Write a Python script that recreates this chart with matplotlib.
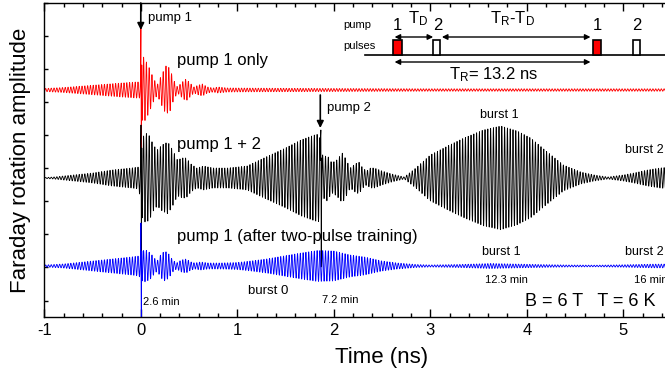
import numpy as np
import matplotlib
matplotlib.use('Agg')
import matplotlib.pyplot as plt
from matplotlib.patches import Rectangle

plt.rcParams['font.family'] = ['Liberation Sans', 'DejaVu Sans']
plt.rcParams['mathtext.fontset'] = 'custom'
plt.rcParams['mathtext.rm'] = 'Liberation Sans'
plt.rcParams['mathtext.it'] = 'Liberation Sans'
plt.rcParams['mathtext.default'] = 'regular'
plt.rcParams['axes.unicode_minus'] = False

# Larmor precession period of the electron spins (ns)
period = 0.029

# envelope of each trace: time (ns) and half amplitude (a.u.)
red_env_t = [-1.0, -0.8, -0.6, -0.4, -0.2, -0.05, -0.01, 0.012, 0.03, 0.08, 0.13, 0.17,
             0.21, 0.26, 0.30, 0.34, 0.38, 0.43, 0.47, 0.51, 0.55, 0.60, 0.64, 0.69,
             0.75, 0.80, 0.90, 1.2, 2.0, 3.0, 4.0, 5.6]
red_env_a = [1.5, 2.5, 4, 5.5, 7, 8, 8, 30, 33, 24, 12, 5,
             14, 24, 22, 10, 3, 8, 11, 7, 3, 5, 6, 3,
             2, 3, 2, 1.8, 1.5, 1.2, 1.2, 1.2]
red_base = 227
red_spike_t = [-0.004, 0.001, 0.005, 0.010]
red_spike_v = [8, 62, -62, 25]

black_env_t = [-1.0, -0.9, -0.7, -0.5, -0.3, -0.1, -0.02, 0.015, 0.05, 0.09, 0.13, 0.17,
               0.22, 0.28, 0.33, 0.38, 0.43, 0.47, 0.52, 0.58, 0.65, 0.75, 0.9, 1.1,
               1.32, 1.5, 1.66, 1.8, 1.85, 1.89, 1.93, 1.98, 2.03, 2.09, 2.13, 2.17,
               2.22, 2.26, 2.30, 2.34, 2.38, 2.42, 2.5, 2.6, 2.73, 2.85, 3.0, 3.2,
               3.35, 3.55, 3.73, 3.9, 4.04, 4.2, 4.38, 4.56, 4.7, 4.84, 5.0, 5.11,
               5.25, 5.38, 5.6]
black_env_a = [0.5, 1, 3, 5, 8, 10, 11, 40, 45, 42, 33, 28,
               33, 36, 28, 18, 20, 20, 14, 10, 12, 10, 10, 12,
               22, 30, 38, 43, 44, 20, 23, 15, 18, 25, 18, 10,
               14, 16, 10, 7, 10, 10, 7, 4, 1, 10, 23, 33,
               40, 48, 52, 47, 40, 27, 13, 6, 3, 1, 3, 5,
               8, 10, 12]
black_base = 139
black_spike_t = [-0.004, 0.002, 0.006, 0.010, 1.862, 1.866, 1.870, 1.874]
black_spike_v = [11, 53, -84, 30, 40, 48, -89, 20]

blue_env_t = [-1.0, -0.8, -0.5, -0.3, -0.1, -0.02, 0.015, 0.05, 0.10, 0.14, 0.17, 0.21,
              0.25, 0.29, 0.33, 0.37, 0.42, 0.47, 0.52, 0.56, 0.62, 0.70, 0.83, 1.0,
              1.14, 1.3, 1.48, 1.66, 1.83, 2.0, 2.17, 2.32, 2.5, 2.66, 2.85, 3.0,
              3.3, 3.63, 3.85, 4.1, 4.4, 4.72, 5.0, 5.3, 5.6]
blue_env_a = [1, 2, 5, 7, 9, 10, 15, 16, 13, 8, 5, 12,
              15, 12, 6, 3, 6, 7, 4, 3, 4, 3, 3, 3.5,
              5, 7, 10, 13, 15.5, 15, 11, 9, 5, 3, 1.5, 1,
              1.5, 2.5, 2, 1.5, 1, 0.8, 1.2, 1.8, 2]
blue_base = 51
blue_spike_t = [-0.004, 0.001, 0.005, 0.010]
blue_spike_v = [10, 43, -70, 15]


def trace(env_t, env_a, base, spike_t, spike_v):
    t = np.arange(-1.0, 5.6, 0.001)
    y = np.interp(t, env_t, env_a) * np.cos(2 * np.pi * t / period)
    keep = np.ones_like(t, dtype=bool)
    for k in range(0, len(spike_t), 4):
        keep &= ~((t >= spike_t[k]) & (t <= spike_t[k + 3]))
    t = np.concatenate([t[keep], spike_t])
    y = np.concatenate([y[keep], spike_v])
    order = np.argsort(t)
    return t[order], base + y[order]


fig = plt.figure(figsize=(6.65, 3.77), dpi=100)
ax = fig.add_axes([44.3 / 665, 60 / 377, 7 * 96.5 / 665, 314 / 377])

for env_t, env_a, base, st, sv, col in [
        (red_env_t, red_env_a, red_base, red_spike_t, red_spike_v, 'red'),
        (black_env_t, black_env_a, black_base, black_spike_t, black_spike_v, 'black'),
        (blue_env_t, blue_env_a, blue_base, blue_spike_t, blue_spike_v, 'blue')]:
    t, y = trace(env_t, env_a, base, np.array(st), np.array(sv, dtype=float))
    ax.plot(t, y, color=col, lw=0.6)

ax.set_xlim(-1, 6)
ax.set_ylim(0, 314)
ax.set_xticks(range(-1, 6))
ax.set_xticks(np.arange(-1, 6.01, 0.2), minor=True)
ax.set_yticks(16.5 + 33.05 * np.arange(10))
ax.set_yticklabels([])
ax.tick_params(axis='x', which='major', direction='in', length=6, width=1, top=True, labelsize=12, pad=4)
ax.tick_params(axis='x', which='minor', direction='in', length=3, width=1, top=True)
ax.tick_params(axis='y', direction='in', length=3, width=1)
for s in ax.spines.values():
    s.set_linewidth(1.0)
ax.set_xlabel('Time (ns)', fontsize=16, labelpad=7)
ax.set_ylabel('Faraday rotation amplitude', fontsize=16)
ax.yaxis.set_label_coords(-0.019, 0.5)

# pump arrows
ax.annotate('', xy=(0, 287), xytext=(0, 314),
            arrowprops=dict(arrowstyle='-|>', color='black', lw=1.2, mutation_scale=10, shrinkA=0, shrinkB=0))
ax.annotate('', xy=(1.86, 189), xytext=(1.86, 222),
            arrowprops=dict(arrowstyle='-|>', color='black', lw=1.2, mutation_scale=10, shrinkA=0, shrinkB=0))

ax.text(0.07, 299, 'pump 1', fontsize=9.5, va='center')
ax.text(1.93, 209, 'pump 2', fontsize=9.5, va='center')
ax.text(0.375, 257, 'pump 1 only', fontsize=12, va='center')
ax.text(0.375, 172, 'pump 1 + 2', fontsize=12, va='center')
ax.text(0.375, 81, 'pump 1 (after two-pulse training)', fontsize=12, va='center')
ax.text(3.72, 202, 'burst 1', fontsize=9, va='center', ha='center')
ax.text(5.02, 167, 'burst 2', fontsize=9, va='center')
ax.text(3.535, 65, 'burst 1', fontsize=9, va='center')
ax.text(5.02, 65, 'burst 2', fontsize=9, va='center')
ax.text(1.11, 26, 'burst 0', fontsize=9.5, va='center')
ax.text(0.025, 15, '2.6 min', fontsize=8, va='center')
ax.text(1.875, 17, '7.2 min', fontsize=8, va='center')
ax.text(3.565, 37, '12.3 min', fontsize=8, va='center')
ax.text(5.11, 37, '16 min', fontsize=8, va='center')
ax.text(3.98, 15, 'B = 6 T   T = 6 K', fontsize=13, va='center')

# pulse scheme
ax.plot([2.326, 5.6], [262, 262], color='black', lw=1.2)
for x0, x1, fc in [(2.616, 2.709, 'red'), (3.03, 3.10, 'white'),
                   (4.688, 4.771, 'red'), (5.10, 5.17, 'white')]:
    ax.add_patch(Rectangle((x0, 262), x1 - x0, 15, facecolor=fc, edgecolor='black', lw=1.2, zorder=3))
for x, s in [(2.66, '1'), (3.08, '2'), (4.73, '1'), (5.14, '2')]:
    ax.text(x, 292, s, fontsize=12, ha='center', va='center')
ax.text(2.098, 292, 'pump', fontsize=8, va='center')
ax.text(2.098, 271, 'pulses', fontsize=8, va='center')
ax.text(2.876, 298, '$T_D$', fontsize=12, ha='center', va='center')
ax.text(3.847, 298, '$T_R$-$T_D$', fontsize=12, ha='center', va='center')
ax.text(3.653, 242, '$T_R$= 13.2 ns', fontsize=12, ha='center', va='center')
arrow = dict(arrowstyle='<|-|>', color='black', lw=1.0, mutation_scale=8, shrinkA=0, shrinkB=0)
ax.annotate('', xy=(3.03, 280), xytext=(2.63, 280), arrowprops=arrow)
ax.annotate('', xy=(4.66, 280), xytext=(3.12, 280), arrowprops=arrow)
ax.annotate('', xy=(4.66, 255), xytext=(2.63, 255), arrowprops=arrow)

fig.savefig('out.png', dpi=100)
